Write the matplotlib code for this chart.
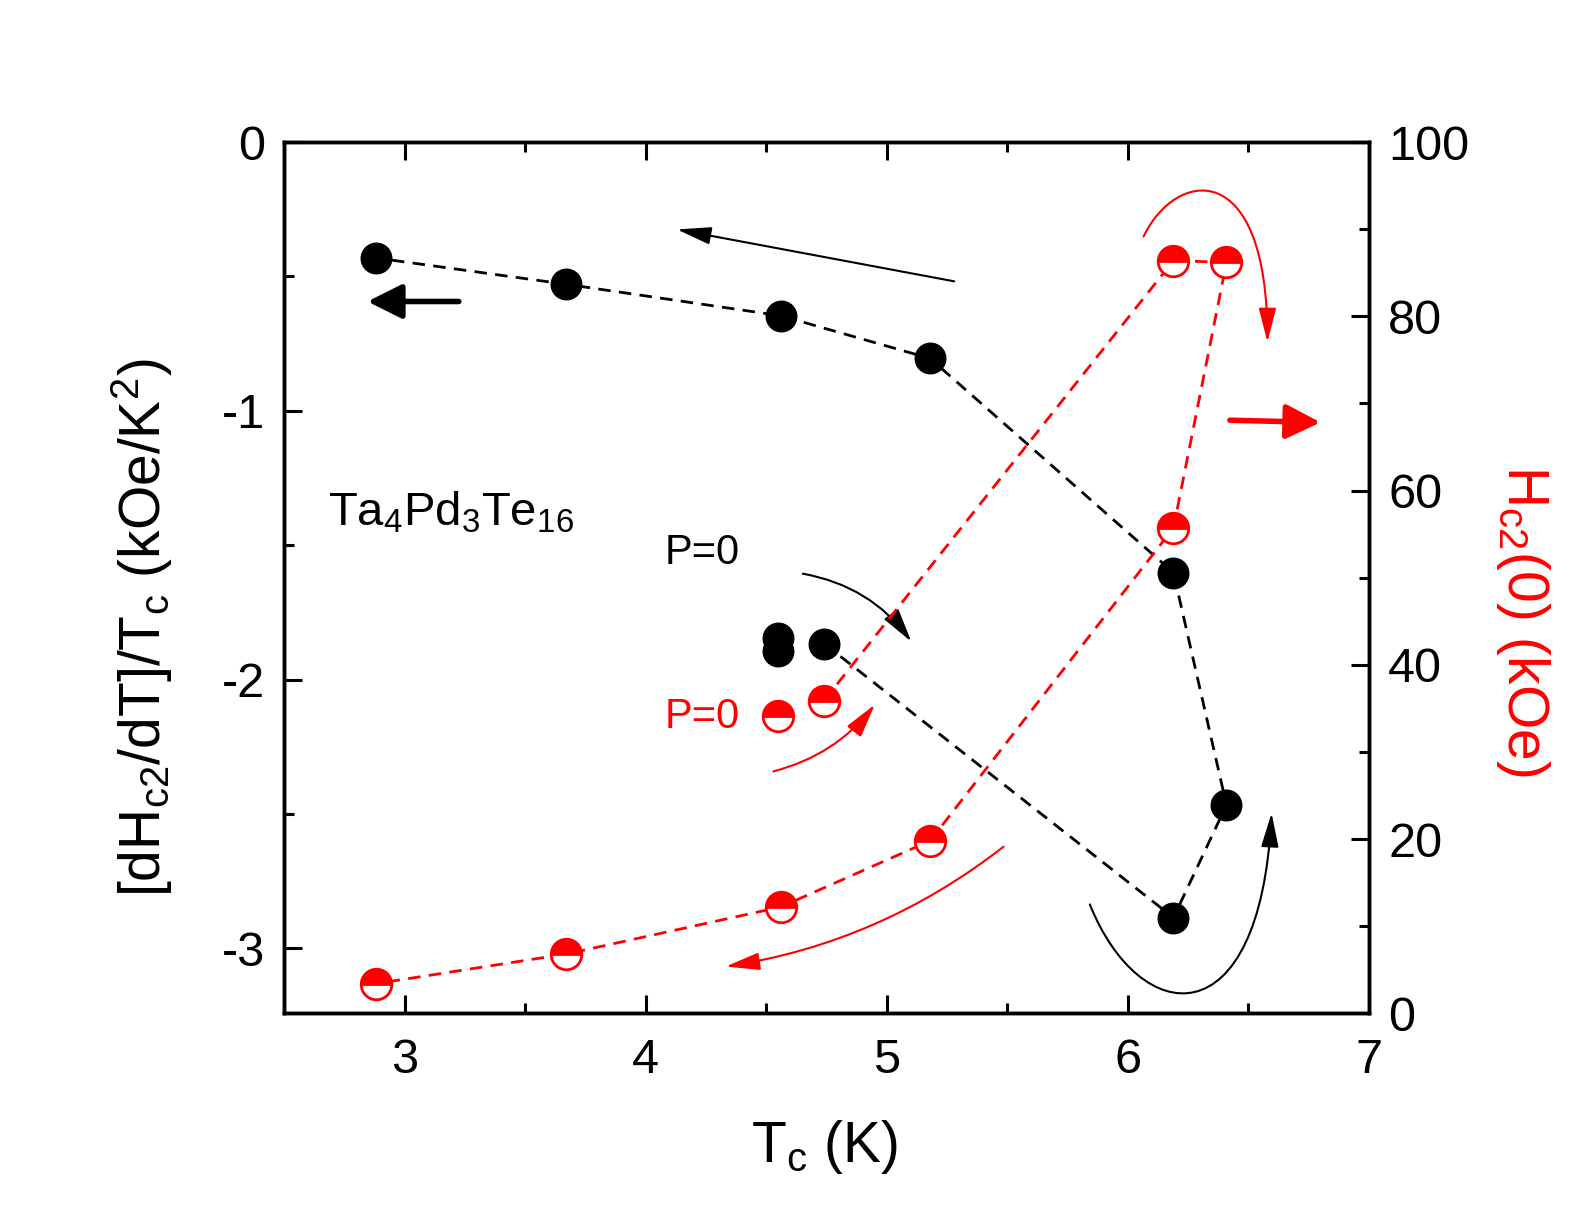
import matplotlib
matplotlib.use('Agg')
import matplotlib.pyplot as plt
from matplotlib.patches import FancyArrowPatch
from matplotlib.path import Path
from matplotlib.ticker import MultipleLocator

plt.rcParams['font.family'] = ['Liberation Sans', 'DejaVu Sans']
plt.rcParams['mathtext.default'] = 'regular'
plt.rcParams['axes.unicode_minus'] = False

# black: slope [dHc2/dT]/Tc (left axis), in pressure order starting at P=0
tc_slope = [4.74, 6.19, 6.41, 6.19, 5.18, 4.56, 3.67, 2.88]
slope = [-1.866, -2.886, -2.467, -1.602, -0.805, -0.646, -0.529, -0.431]
# extra P=0 points (not on the line)
tc_slope_p0 = [4.55, 4.55]
slope_p0 = [-1.844, -1.893]

# red: Hc2(0) (right axis), same order
tc_h = [4.74, 6.19, 6.41, 6.19, 5.18, 4.56, 3.67, 2.88]
hc2 = [35.9, 86.4, 86.2, 55.7, 19.8, 12.2, 6.8, 3.4]
tc_h_p0 = [4.55]
hc2_p0 = [34.1]

fig = plt.figure(figsize=(15.92, 12.17), dpi=100)
ax = fig.add_axes([0.1786, 0.1674, 0.6811, 0.7158])
ax2 = ax.twinx()

red = '#ff0000'

# black series
ax.plot(tc_slope, slope, color='black', lw=2, dashes=(4.5, 3), zorder=2)
ax.plot(tc_slope, slope, 'o', color='black', ms=22, zorder=3)
ax.plot(tc_slope_p0, slope_p0, 'o', color='black', ms=22, zorder=3)

# red series
ax2.plot(tc_h, hc2, color=red, lw=2, dashes=(4.5, 3), zorder=2)
for xs, ys in [(tc_h, hc2), (tc_h_p0, hc2_p0)]:
    ax2.plot(xs, ys, 'o', ms=22, fillstyle='top', markerfacecolor=red,
             markerfacecoloralt='white', markeredgecolor=red, mew=2, zorder=3)

ax.set_xlim(2.5, 7)
ax.set_ylim(-3.242, 0)
ax2.set_ylim(0, 100)

ax.xaxis.set_major_locator(MultipleLocator(1))
ax.xaxis.set_minor_locator(MultipleLocator(0.5))
ax.yaxis.set_major_locator(MultipleLocator(1))
ax.yaxis.set_minor_locator(MultipleLocator(0.5))
ax2.yaxis.set_major_locator(MultipleLocator(20))
ax2.yaxis.set_minor_locator(MultipleLocator(10))

for a in (ax, ax2):
    for s in a.spines.values():
        s.set_linewidth(2.5)
ax.tick_params(which='both', direction='in', top=True, right=False, width=2.2, labelsize=35, pad=14)
ax.tick_params(axis='x', pad=18)
ax.tick_params(which='major', length=13)
ax.tick_params(which='minor', length=7)
ax2.tick_params(which='both', direction='in', width=2.2, labelsize=35, pad=14)
ax2.tick_params(which='major', length=13)
ax2.tick_params(which='minor', length=7)

ax.set_xlabel(r'T$_c$ (K)', fontsize=41, va='center', ha='center')
ax.xaxis.set_label_coords(0.498, -0.154)
ax.set_ylabel(r'[dH$_{c2}$/dT]/T$_c$ (kOe/K$^2$)', fontsize=41, va='center', ha='center')
ax.yaxis.set_label_coords(-0.131, 0.443)
ax2.set_ylabel(r'H$_{c2}$(0) (kOe)', fontsize=41, color=red, rotation=270,
               va='center', ha='center')
ax2.yaxis.set_label_coords(1.142, 0.45)

ax.text(2.68, -1.38, r'Ta$_4$Pd$_3$Te$_{16}$', fontsize=34, ha='left', va='center', zorder=5)
ax.text(4.08, -1.53, 'P=0', fontsize=30, ha='left', va='center', zorder=5)
ax.text(4.08, -2.14, 'P=0', fontsize=30, ha='left', va='center', color=red, zorder=5)

thin = '-|>,head_length=0.7,head_width=0.18'
thick = '-|>,head_length=0.7,head_width=0.35'


def arrow(p0, p1, color, style, lw, rad=0.0):
    ax.add_patch(FancyArrowPatch(p0, p1, arrowstyle=style, mutation_scale=30,
                                 connectionstyle=f'arc3,rad={rad}', color=color,
                                 lw=lw, shrinkA=0, shrinkB=0, zorder=6))


def curve(pts, color):
    path = Path(pts, [Path.MOVETO, Path.CURVE4, Path.CURVE4, Path.CURVE4])
    ax.add_patch(FancyArrowPatch(path=path, arrowstyle=thin, mutation_scale=30,
                                 color=color, lw=1.5, shrinkA=0, shrinkB=0, zorder=6))


arrow((5.28, -0.518), (4.13, -0.325), 'black', thin, 1.5)
arrow((3.224, -0.593), (2.845, -0.593), 'black', thick, 4)
arrow((6.424, -1.035), (6.80, -1.043), red, thick, 4)
arrow((4.652, -1.606), (5.102, -1.859), 'black', thin, 1.5, rad=-0.2)
arrow((4.529, -2.342), (4.951, -2.093), red, thin, 1.5, rad=0.17)
arrow((5.485, -2.622), (4.332, -3.068), red, thin, 1.5, rad=-0.13)
curve([(6.066, -0.351), (6.2, -0.1), (6.58, -0.05), (6.58, -0.744)], red)
curve([(5.843, -2.837), (6.05, -3.3), (6.55, -3.35), (6.597, -2.497)], 'black')

fig.savefig('out.png', dpi=100)
